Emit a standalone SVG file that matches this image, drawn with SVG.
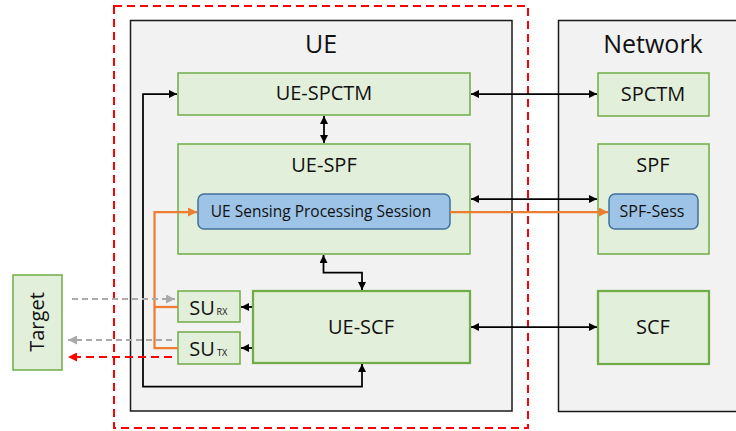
<svg xmlns="http://www.w3.org/2000/svg" width="736" height="431" viewBox="0 0 736 431">
<style>
text{font-family:"Open Sans","Noto Sans",sans-serif;fill:#111;text-anchor:middle}
.area{fill:#f2f2f2;stroke:#1a1a1a;stroke-width:1.5}
.g{fill:#e2efda;stroke:#70ad47;stroke-width:1.5}
.g2{fill:#e2efda;stroke:#70ad47;stroke-width:2.25}
.b{fill:#9dc3e6;stroke:#41719c;stroke-width:1.5}
.t20{font-size:20px}
.t16{font-size:16px}
.t26{font-size:25px}
.blk{fill:none;stroke:#000;stroke-width:1.75}
.org{fill:none;stroke:#ed7d31;stroke-width:2.25}
.gry{fill:none;stroke:#aaaaaa;stroke-width:2;stroke-dasharray:6 4}
.red{fill:none;stroke:#ff0000;stroke-width:2;stroke-dasharray:8 5}
</style>
<defs>
<marker id="ab" viewBox="0 0 10 10" refX="10" refY="5" markerWidth="8" markerHeight="8" markerUnits="userSpaceOnUse" orient="auto-start-reverse"><path d="M0,0 L10,5 L0,10 z" fill="#000"/></marker>
<marker id="ao" viewBox="0 0 10 10" refX="10" refY="5" markerWidth="9" markerHeight="9" markerUnits="userSpaceOnUse" orient="auto"><path d="M0,0 L10,5 L0,10 z" fill="#ed7d31"/></marker>
<marker id="ag" viewBox="0 0 10 10" refX="10" refY="5" markerWidth="9" markerHeight="9" markerUnits="userSpaceOnUse" orient="auto"><path d="M0,0 L10,5 L0,10 z" fill="#aaaaaa"/></marker>
<marker id="ar" viewBox="0 0 10 10" refX="10" refY="5" markerWidth="9" markerHeight="9" markerUnits="userSpaceOnUse" orient="auto"><path d="M0,0 L10,5 L0,10 z" fill="#ff0000"/></marker>
</defs>
<rect width="736" height="431" fill="#fff"/>
<g id="ue-area"><rect class="area" x="130.5" y="20.5" width="381.5" height="390.5"/><text class="t26" x="321" y="53">UE</text></g>
<g id="network-area"><rect class="area" x="558.5" y="20.5" width="190" height="391"/><text class="t26" x="653" y="53">Network</text></g>
<g id="ue-spctm"><rect class="g" x="178" y="73" width="292" height="42"/><text class="t20" x="324" y="100">UE-SPCTM</text></g>
<g id="ue-spf"><rect class="g" x="178" y="144" width="292" height="110"/><text class="t20" x="324" y="172">UE-SPF</text></g>
<g id="ue-session"><rect class="b" x="198" y="194" width="252" height="35" rx="6"/><text x="321" y="217" style="font-size:15.5px">UE Sensing Processing Session</text></g>
<g id="ue-scf"><rect class="g2" x="253" y="291" width="217" height="72"/><text class="t20" x="361" y="334">UE-SCF</text></g>
<g id="su-rx"><rect class="g" x="178" y="291" width="62" height="31"/><text x="202" y="315" style="font-size:20px">SU</text><text x="222" y="315" style="font-size:9px">RX</text></g>
<g id="su-tx"><rect class="g" x="178" y="332" width="62" height="32"/><text x="202" y="356" style="font-size:20px">SU</text><text x="222" y="356" style="font-size:9px">TX</text></g>
<g id="target"><rect class="g" x="13" y="275" width="49" height="95"/><text class="t20" transform="translate(44,322) rotate(-90)">Target</text></g>
<g id="spctm"><rect class="g" x="598" y="73" width="111" height="43"/><text class="t20" x="653" y="101">SPCTM</text></g>
<g id="spf"><rect class="g" x="598" y="144" width="111" height="110"/><text class="t20" x="653" y="172">SPF</text></g>
<g id="spf-sess"><rect class="b" x="609" y="194" width="89" height="35" rx="6"/><text class="t16" x="652" y="217">SPF-Sess</text></g>
<g id="scf"><rect class="g2" x="598" y="291" width="111" height="73"/><text class="t20" x="653" y="334">SCF</text></g>
<g id="ue-boundary"><rect class="red" x="114" y="6" width="414" height="422"/></g>
<g id="connectors">
<line class="blk" x1="471" y1="94" x2="597" y2="94" marker-start="url(#ab)" marker-end="url(#ab)"/>
<line class="blk" x1="471" y1="199" x2="597" y2="199" marker-start="url(#ab)" marker-end="url(#ab)"/>
<line class="blk" x1="471" y1="327" x2="597" y2="327" marker-start="url(#ab)" marker-end="url(#ab)"/>
<line class="blk" x1="324" y1="116" x2="324" y2="143" marker-start="url(#ab)" marker-end="url(#ab)"/>
<polyline class="blk" points="323.5,255 323.5,272.5 362,272.5 362,290" marker-start="url(#ab)" marker-end="url(#ab)"/>
<line class="blk" x1="252" y1="307" x2="241" y2="307" marker-end="url(#ab)"/>
<line class="blk" x1="252" y1="348" x2="241" y2="348" marker-end="url(#ab)"/>
<polyline class="blk" points="362,364 362,386.5 143,386.5 143,94 177,94" marker-start="url(#ab)" marker-end="url(#ab)"/>
<line class="org" x1="450" y1="212" x2="608" y2="212" marker-end="url(#ao)"/>
<polyline class="org" points="178,348 154.5,348 154.5,212 197,212" marker-end="url(#ao)"/>
<line class="org" x1="154.5" y1="307" x2="178" y2="307"/>
<line class="gry" x1="72" y1="299" x2="175" y2="299" marker-end="url(#ag)"/>
<line class="gry" x1="172" y1="340" x2="68" y2="340" marker-end="url(#ag)"/>
<line class="red" x1="172" y1="357" x2="68" y2="357" marker-end="url(#ar)"/>
</g>
</svg>
